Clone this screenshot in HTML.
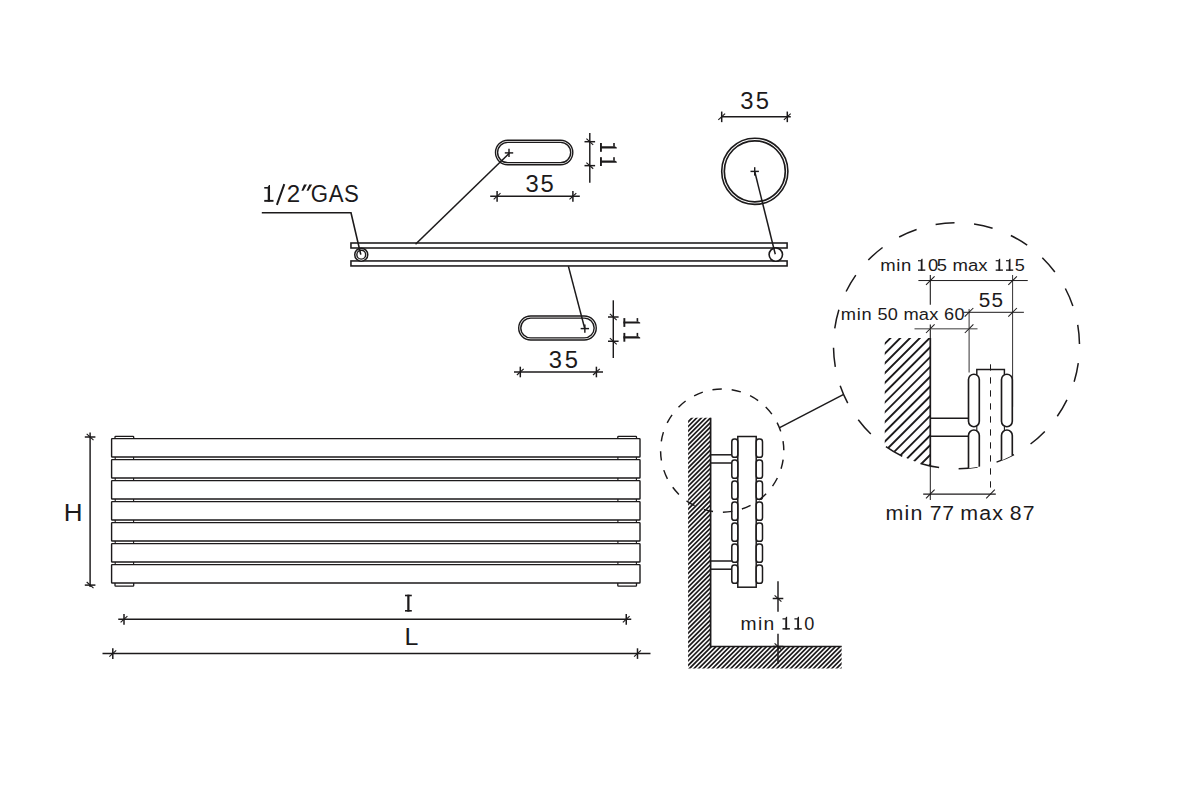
<!DOCTYPE html>
<html><head><meta charset="utf-8"><title>Radiator technical drawing</title>
<style>html,body{margin:0;padding:0;background:#fff;}svg{display:block;}</style></head>
<body>
<svg width="1200" height="800" viewBox="0 0 1200 800" font-family="'Liberation Sans', sans-serif" fill="none" stroke="#1c1a1b" stroke-linecap="butt">
<defs>
<clipPath id="wallc"><path d="M688.1,417.8 H710.6 V646.5 H841.6 V668.6 H688.1 Z"/></clipPath>
<clipPath id="dwallc"><rect x="884.75" y="338.1" width="45.55" height="140"/></clipPath>
<clipPath id="bigc"><circle cx="956.5" cy="345.8" r="123"/></clipPath>
</defs>
<rect x="0" y="0" width="1200" height="800" fill="#fff" stroke="none"/>
<g id="top">
<rect x="350.95" y="243" width="436.15" height="5.0" stroke-width="1.55"/>
<rect x="350.95" y="260.95" width="436.15" height="5.0" stroke-width="1.55"/>
<circle cx="361.25" cy="254.7" r="6.5" stroke-width="1.5" fill="#fff"/>
<circle cx="361.25" cy="254.7" r="4.4" stroke-width="1.4"/>
<circle cx="775.8" cy="254.6" r="6.7" stroke-width="1.6" fill="#fff"/>
<polyline points="261.8,212.8 351,212.8 360.8,254.6" stroke-width="1.6"/>
<rect x="495.50" y="140.25" width="77.30" height="24.50" rx="12.25" stroke-width="1.4"/>
<rect x="497.60" y="142.35" width="73.10" height="20.30" rx="10.15" stroke-width="1.4"/>
<line x1="504.80" y1="152.90" x2="513.20" y2="152.90" stroke-width="1.45" />
<line x1="509.00" y1="148.70" x2="509.00" y2="157.10" stroke-width="1.45" />
<line x1="509.30" y1="153.20" x2="415.50" y2="244.20" stroke-width="1.55" />
<line x1="490.20" y1="196.25" x2="579.80" y2="196.25" stroke-width="1.45" />
<line x1="497.10" y1="191.05" x2="497.10" y2="201.65" stroke-width="1.5" />
<line x1="493.70" y1="199.35" x2="500.50" y2="193.15" stroke-width="1.15" />
<line x1="572.90" y1="191.05" x2="572.90" y2="201.65" stroke-width="1.5" />
<line x1="569.50" y1="199.35" x2="576.30" y2="193.15" stroke-width="1.15" />
<line x1="589.80" y1="133.10" x2="589.80" y2="182.70" stroke-width="1.45" />
<line x1="584.50" y1="141.70" x2="595.10" y2="141.70" stroke-width="1.5" />
<line x1="586.40" y1="138.60" x2="593.20" y2="144.80" stroke-width="1.15" />
<line x1="584.50" y1="165.65" x2="595.10" y2="165.65" stroke-width="1.5" />
<line x1="586.40" y1="162.55" x2="593.20" y2="168.75" stroke-width="1.15" />
<circle cx="754.8" cy="171.3" r="33.1" stroke-width="1.6"/>
<circle cx="754.8" cy="171.3" r="30.5" stroke-width="1.7"/>
<line x1="750.50" y1="171.40" x2="758.90" y2="171.40" stroke-width="1.45" />
<line x1="754.70" y1="167.20" x2="754.70" y2="175.60" stroke-width="1.45" />
<line x1="754.70" y1="171.40" x2="775.30" y2="254.30" stroke-width="1.5" />
<line x1="721.20" y1="116.75" x2="790.75" y2="116.75" stroke-width="1.45" />
<line x1="721.70" y1="111.55" x2="721.70" y2="122.15" stroke-width="1.5" />
<line x1="718.30" y1="119.85" x2="725.10" y2="113.65" stroke-width="1.15" />
<line x1="787.30" y1="111.55" x2="787.30" y2="122.15" stroke-width="1.5" />
<line x1="783.90" y1="119.85" x2="790.70" y2="113.65" stroke-width="1.15" />
<rect x="518.70" y="316.00" width="77.55" height="24.00" rx="12.00" stroke-width="1.4"/>
<rect x="520.80" y="318.10" width="73.35" height="19.80" rx="9.90" stroke-width="1.4"/>
<line x1="580.65" y1="328.60" x2="589.05" y2="328.60" stroke-width="1.45" />
<line x1="584.85" y1="324.40" x2="584.85" y2="332.80" stroke-width="1.45" />
<line x1="568.40" y1="266.25" x2="584.80" y2="328.80" stroke-width="1.45" />
<line x1="613.30" y1="300.30" x2="613.30" y2="358.00" stroke-width="1.45" />
<line x1="608.00" y1="317.00" x2="618.60" y2="317.00" stroke-width="1.5" />
<line x1="609.90" y1="313.90" x2="616.70" y2="320.10" stroke-width="1.15" />
<line x1="608.00" y1="341.25" x2="618.60" y2="341.25" stroke-width="1.5" />
<line x1="609.90" y1="338.15" x2="616.70" y2="344.35" stroke-width="1.15" />
<line x1="514.00" y1="371.90" x2="603.00" y2="371.90" stroke-width="1.45" />
<line x1="520.30" y1="366.70" x2="520.30" y2="377.30" stroke-width="1.5" />
<line x1="516.90" y1="375.00" x2="523.70" y2="368.80" stroke-width="1.15" />
<line x1="596.40" y1="366.70" x2="596.40" y2="377.30" stroke-width="1.5" />
<line x1="593.00" y1="375.00" x2="599.80" y2="368.80" stroke-width="1.15" />
</g>
<g id="front">
<path d="M115,438.6 V437.0 Q115,436.3 115.7,436.3 H133.0 Q133.7,436.3 133.7,437.0 V438.6" stroke-width="1.3"/>
<path d="M617.8,438.6 V437.0 Q617.8,436.3 618.5,436.3 H635.8 Q636.5,436.3 636.5,437.0 V438.6" stroke-width="1.3"/>
<path d="M115,583 V585.4 Q115,586.1 115.7,586.1 H133.0 Q133.7,586.1 133.7,585.4 V583" stroke-width="1.3"/>
<path d="M617.8,583 V585.4 Q617.8,586.1 618.5,586.1 H635.8 Q636.5,586.1 636.5,585.4 V583" stroke-width="1.3"/>
<rect x="111.6" y="438.60" width="528.4" height="18.4" rx="0.6" stroke-width="1.4"/>
<line x1="115.20" y1="457.00" x2="115.20" y2="459.60" stroke-width="1.1" />
<line x1="133.60" y1="457.00" x2="133.60" y2="459.60" stroke-width="1.1" />
<line x1="617.90" y1="457.00" x2="617.90" y2="459.60" stroke-width="1.1" />
<line x1="636.40" y1="457.00" x2="636.40" y2="459.60" stroke-width="1.1" />
<rect x="111.6" y="459.60" width="528.4" height="18.4" rx="0.6" stroke-width="1.4"/>
<line x1="115.20" y1="478.00" x2="115.20" y2="480.60" stroke-width="1.1" />
<line x1="133.60" y1="478.00" x2="133.60" y2="480.60" stroke-width="1.1" />
<line x1="617.90" y1="478.00" x2="617.90" y2="480.60" stroke-width="1.1" />
<line x1="636.40" y1="478.00" x2="636.40" y2="480.60" stroke-width="1.1" />
<rect x="111.6" y="480.60" width="528.4" height="18.4" rx="0.6" stroke-width="1.4"/>
<line x1="115.20" y1="499.00" x2="115.20" y2="501.60" stroke-width="1.1" />
<line x1="133.60" y1="499.00" x2="133.60" y2="501.60" stroke-width="1.1" />
<line x1="617.90" y1="499.00" x2="617.90" y2="501.60" stroke-width="1.1" />
<line x1="636.40" y1="499.00" x2="636.40" y2="501.60" stroke-width="1.1" />
<rect x="111.6" y="501.60" width="528.4" height="18.4" rx="0.6" stroke-width="1.4"/>
<line x1="115.20" y1="520.00" x2="115.20" y2="522.60" stroke-width="1.1" />
<line x1="133.60" y1="520.00" x2="133.60" y2="522.60" stroke-width="1.1" />
<line x1="617.90" y1="520.00" x2="617.90" y2="522.60" stroke-width="1.1" />
<line x1="636.40" y1="520.00" x2="636.40" y2="522.60" stroke-width="1.1" />
<rect x="111.6" y="522.60" width="528.4" height="18.4" rx="0.6" stroke-width="1.4"/>
<line x1="115.20" y1="541.00" x2="115.20" y2="543.60" stroke-width="1.1" />
<line x1="133.60" y1="541.00" x2="133.60" y2="543.60" stroke-width="1.1" />
<line x1="617.90" y1="541.00" x2="617.90" y2="543.60" stroke-width="1.1" />
<line x1="636.40" y1="541.00" x2="636.40" y2="543.60" stroke-width="1.1" />
<rect x="111.6" y="543.60" width="528.4" height="18.4" rx="0.6" stroke-width="1.4"/>
<line x1="115.20" y1="562.00" x2="115.20" y2="564.60" stroke-width="1.1" />
<line x1="133.60" y1="562.00" x2="133.60" y2="564.60" stroke-width="1.1" />
<line x1="617.90" y1="562.00" x2="617.90" y2="564.60" stroke-width="1.1" />
<line x1="636.40" y1="562.00" x2="636.40" y2="564.60" stroke-width="1.1" />
<rect x="111.6" y="564.60" width="528.4" height="18.4" rx="0.6" stroke-width="1.4"/>
<line x1="90.10" y1="432.50" x2="90.10" y2="587.00" stroke-width="1.45" />
<line x1="84.80" y1="437.00" x2="95.40" y2="437.00" stroke-width="1.5" />
<line x1="86.70" y1="433.90" x2="93.50" y2="440.10" stroke-width="1.15" />
<line x1="84.80" y1="585.10" x2="95.40" y2="585.10" stroke-width="1.5" />
<line x1="86.70" y1="582.00" x2="93.50" y2="588.20" stroke-width="1.15" />
<line x1="118.25" y1="619.25" x2="631.25" y2="619.25" stroke-width="1.45" />
<line x1="124.00" y1="614.05" x2="124.00" y2="624.65" stroke-width="1.5" />
<line x1="120.60" y1="622.35" x2="127.40" y2="616.15" stroke-width="1.15" />
<line x1="626.25" y1="614.05" x2="626.25" y2="624.65" stroke-width="1.5" />
<line x1="622.85" y1="622.35" x2="629.65" y2="616.15" stroke-width="1.15" />
<line x1="102.50" y1="653.50" x2="650.50" y2="653.50" stroke-width="1.45" />
<line x1="112.80" y1="648.30" x2="112.80" y2="658.90" stroke-width="1.5" />
<line x1="109.40" y1="656.60" x2="116.20" y2="650.40" stroke-width="1.15" />
<line x1="637.50" y1="648.30" x2="637.50" y2="658.90" stroke-width="1.5" />
<line x1="634.10" y1="656.60" x2="640.90" y2="650.40" stroke-width="1.15" />
</g>
<g id="side">
<g clip-path="url(#wallc)"><path d="M686.00,424.00L844.00,266.00M686.00,428.59L844.00,270.59M686.00,433.19L844.00,275.19M686.00,437.78L844.00,279.78M686.00,442.37L844.00,284.37M686.00,446.96L844.00,288.96M686.00,451.56L844.00,293.56M686.00,456.15L844.00,298.15M686.00,460.74L844.00,302.74M686.00,465.34L844.00,307.34M686.00,469.93L844.00,311.93M686.00,474.52L844.00,316.52M686.00,479.12L844.00,321.12M686.00,483.71L844.00,325.71M686.00,488.30L844.00,330.30M686.00,492.89L844.00,334.89M686.00,497.49L844.00,339.49M686.00,502.08L844.00,344.08M686.00,506.67L844.00,348.67M686.00,511.27L844.00,353.27M686.00,515.86L844.00,357.86M686.00,520.45L844.00,362.45M686.00,525.05L844.00,367.05M686.00,529.64L844.00,371.64M686.00,534.23L844.00,376.23M686.00,538.83L844.00,380.83M686.00,543.42L844.00,385.42M686.00,548.01L844.00,390.01M686.00,552.60L844.00,394.60M686.00,557.20L844.00,399.20M686.00,561.79L844.00,403.79M686.00,566.38L844.00,408.38M686.00,570.98L844.00,412.98M686.00,575.57L844.00,417.57M686.00,580.16L844.00,422.16M686.00,584.76L844.00,426.76M686.00,589.35L844.00,431.35M686.00,593.94L844.00,435.94M686.00,598.53L844.00,440.53M686.00,603.13L844.00,445.13M686.00,607.72L844.00,449.72M686.00,612.31L844.00,454.31M686.00,616.91L844.00,458.91M686.00,621.50L844.00,463.50M686.00,626.09L844.00,468.09M686.00,630.68L844.00,472.68M686.00,635.28L844.00,477.28M686.00,639.87L844.00,481.87M686.00,644.46L844.00,486.46M686.00,649.06L844.00,491.06M686.00,653.65L844.00,495.65M686.00,658.24L844.00,500.24M686.00,662.84L844.00,504.84M686.00,667.43L844.00,509.43M686.00,672.02L844.00,514.02M686.00,676.62L844.00,518.62M686.00,681.21L844.00,523.21M686.00,685.80L844.00,527.80M686.00,690.39L844.00,532.39M686.00,694.99L844.00,536.99M686.00,699.58L844.00,541.58M686.00,704.17L844.00,546.17M686.00,708.77L844.00,550.77M686.00,713.36L844.00,555.36M686.00,717.95L844.00,559.95M686.00,722.55L844.00,564.55M686.00,727.14L844.00,569.14M686.00,731.73L844.00,573.73M686.00,736.32L844.00,578.32M686.00,740.92L844.00,582.92M686.00,745.51L844.00,587.51M686.00,750.10L844.00,592.10M686.00,754.70L844.00,596.70M686.00,759.29L844.00,601.29M686.00,763.88L844.00,605.88M686.00,768.47L844.00,610.47M686.00,773.07L844.00,615.07M686.00,777.66L844.00,619.66M686.00,782.25L844.00,624.25M686.00,786.85L844.00,628.85M686.00,791.44L844.00,633.44M686.00,796.03L844.00,638.03M686.00,800.63L844.00,642.63M686.00,805.22L844.00,647.22M686.00,809.81L844.00,651.81M686.00,814.40L844.00,656.40M686.00,819.00L844.00,661.00M686.00,823.59L844.00,665.59M686.00,828.18L844.00,670.18M686.00,832.78L844.00,674.78" stroke-width="1.7"/></g>
<polyline points="710.6,417.8 710.6,646.5 841.7,646.5" stroke-width="1.7"/>
<line x1="710.60" y1="454.80" x2="731.80" y2="454.80" stroke-width="1.5" />
<line x1="710.60" y1="463.00" x2="731.80" y2="463.00" stroke-width="1.5" />
<line x1="710.60" y1="561.00" x2="731.80" y2="561.00" stroke-width="1.5" />
<line x1="710.60" y1="569.20" x2="731.80" y2="569.20" stroke-width="1.5" />
<rect x="737.8" y="436.5" width="18.4" height="150.7" stroke-width="1.5" fill="#fff"/>
<rect x="731.8" y="439.10" width="6.0" height="18.2" rx="2.6" stroke-width="1.5" fill="#fff"/>
<rect x="756.2" y="439.10" width="6.3" height="18.2" rx="2.6" stroke-width="1.5" fill="#fff"/>
<rect x="731.8" y="460.10" width="6.0" height="18.2" rx="2.6" stroke-width="1.5" fill="#fff"/>
<rect x="756.2" y="460.10" width="6.3" height="18.2" rx="2.6" stroke-width="1.5" fill="#fff"/>
<rect x="731.8" y="481.10" width="6.0" height="18.2" rx="2.6" stroke-width="1.5" fill="#fff"/>
<rect x="756.2" y="481.10" width="6.3" height="18.2" rx="2.6" stroke-width="1.5" fill="#fff"/>
<rect x="731.8" y="502.10" width="6.0" height="18.2" rx="2.6" stroke-width="1.5" fill="#fff"/>
<rect x="756.2" y="502.10" width="6.3" height="18.2" rx="2.6" stroke-width="1.5" fill="#fff"/>
<rect x="731.8" y="523.10" width="6.0" height="18.2" rx="2.6" stroke-width="1.5" fill="#fff"/>
<rect x="756.2" y="523.10" width="6.3" height="18.2" rx="2.6" stroke-width="1.5" fill="#fff"/>
<rect x="731.8" y="544.10" width="6.0" height="18.2" rx="2.6" stroke-width="1.5" fill="#fff"/>
<rect x="756.2" y="544.10" width="6.3" height="18.2" rx="2.6" stroke-width="1.5" fill="#fff"/>
<rect x="731.8" y="565.10" width="6.0" height="18.2" rx="2.6" stroke-width="1.5" fill="#fff"/>
<rect x="756.2" y="565.10" width="6.3" height="18.2" rx="2.6" stroke-width="1.5" fill="#fff"/>
<circle cx="722.2" cy="450.6" r="61.6" stroke-width="1.45" stroke-dasharray="9.4 9.952" stroke-dashoffset="-9.08"/>
<line x1="779.20" y1="427.80" x2="843.20" y2="394.60" stroke-width="1.5" />
<line x1="778.00" y1="581.25" x2="778.00" y2="611.70" stroke-width="1.45" />
<line x1="778.00" y1="633.75" x2="778.00" y2="663.75" stroke-width="1.45" />
<line x1="772.70" y1="598.50" x2="783.30" y2="598.50" stroke-width="1.5" />
<line x1="774.60" y1="595.40" x2="781.40" y2="601.60" stroke-width="1.15" />
<line x1="772.70" y1="646.50" x2="783.30" y2="646.50" stroke-width="1.5" />
<line x1="774.60" y1="643.40" x2="781.40" y2="649.60" stroke-width="1.15" />
</g>
<g id="detail">
<circle cx="956.5" cy="345.8" r="123" stroke-width="1.5" stroke-dasharray="19 19.642" stroke-dashoffset="-17.4"/>
<g clip-path="url(#bigc)">
<g clip-path="url(#dwallc)"><path d="M883.00,345.50L932.00,296.50M883.00,355.29L932.00,306.29M883.00,365.08L932.00,316.08M883.00,374.87L932.00,325.87M883.00,384.66L932.00,335.66M883.00,394.45L932.00,345.45M883.00,404.24L932.00,355.24M883.00,414.03L932.00,365.03M883.00,423.82L932.00,374.82M883.00,433.61L932.00,384.61M883.00,443.40L932.00,394.40M883.00,453.19L932.00,404.19M883.00,462.98L932.00,413.98M883.00,472.77L932.00,423.77M883.00,482.56L932.00,433.56M883.00,492.35L932.00,443.35M883.00,502.14L932.00,453.14M883.00,511.93L932.00,462.93M883.00,521.72L932.00,472.72M883.00,531.51L932.00,482.51M883.00,541.30L932.00,492.30M883.00,551.09L932.00,502.09M883.00,560.88L932.00,511.88M883.00,570.67L932.00,521.67" stroke-width="1.9"/></g>
<line x1="930.30" y1="338.10" x2="930.30" y2="470.00" stroke-width="1.7" />
<line x1="930.30" y1="418.30" x2="968.50" y2="418.30" stroke-width="1.45" />
<line x1="930.30" y1="436.30" x2="968.50" y2="436.30" stroke-width="1.45" />
<path d="M976.8,376 V369.5 H1004.4 V376" stroke-width="1.45"/>
<line x1="976.80" y1="425.50" x2="976.80" y2="431.50" stroke-width="1.1" />
<line x1="1004.40" y1="425.50" x2="1004.40" y2="431.50" stroke-width="1.1" />
<rect x="968.5" y="374.2" width="10.80" height="52.5" rx="5.40" stroke-width="1.65" fill="#fff"/>
<path d="M968.5,480 V435.40 A5.40,5.40 0 0 1 979.3,435.40 V480" stroke-width="1.65" fill="#fff"/>
<rect x="1001.5" y="374.2" width="10.80" height="52.5" rx="5.40" stroke-width="1.65" fill="#fff"/>
<path d="M1001.5,480 V435.40 A5.40,5.40 0 0 1 1012.3,435.40 V480" stroke-width="1.65" fill="#fff"/>
</g>
<line x1="930.30" y1="275.00" x2="930.30" y2="304.75" stroke-width="1.1" />
<line x1="930.30" y1="324.50" x2="930.30" y2="338.10" stroke-width="1.1" />
<line x1="930.30" y1="466.00" x2="930.30" y2="500.00" stroke-width="1.0" />
<line x1="1012.60" y1="275.00" x2="1012.60" y2="406.75" stroke-width="0.9" />
<line x1="969.10" y1="309.00" x2="969.10" y2="372.50" stroke-width="0.9" />
<line x1="918.40" y1="280.55" x2="1027.75" y2="280.55" stroke-width="1.0" />
<line x1="926.00" y1="284.90" x2="934.60" y2="276.30" stroke-width="1.05" />
<line x1="1008.30" y1="284.90" x2="1016.90" y2="276.30" stroke-width="1.05" />
<line x1="963.60" y1="312.30" x2="1023.90" y2="312.30" stroke-width="1.0" />
<line x1="964.70" y1="316.60" x2="973.30" y2="308.00" stroke-width="1.05" />
<line x1="1008.30" y1="316.60" x2="1016.90" y2="308.00" stroke-width="1.05" />
<line x1="914.50" y1="328.80" x2="977.50" y2="328.80" stroke-width="1.6" stroke="#7c7c7c"/>
<line x1="926.00" y1="333.00" x2="934.60" y2="324.40" stroke-width="1.05" />
<line x1="964.80" y1="333.00" x2="973.40" y2="324.40" stroke-width="1.05" />
<line x1="923.20" y1="494.10" x2="995.80" y2="494.10" stroke-width="1.05" />
<line x1="926.00" y1="498.30" x2="934.60" y2="489.70" stroke-width="1.05" />
<line x1="986.20" y1="498.30" x2="994.80" y2="489.70" stroke-width="1.05" />
<line x1="990.50" y1="364.30" x2="990.50" y2="494.00" stroke-width="1.0" stroke-dasharray="6.3 6.7"/>
</g>
<g id="txt" fill="#1c1a1b" stroke="none">
<text transform="translate(286.75 201.80) scale(1.0 1)" font-size="23.9" textLength="13.44" lengthAdjust="spacingAndGlyphs">2</text>
<text transform="translate(310.76 201.80) scale(0.93 1)" font-size="23.9" textLength="51.76" lengthAdjust="spacing">GAS</text>
<text transform="translate(525.50 191.90) scale(1.0 1)" font-size="23.8" textLength="28.36" lengthAdjust="spacing">35</text>
<text transform="translate(740.20 109.00) scale(1.0 1)" font-size="23.8" textLength="28.80" lengthAdjust="spacing">35</text>
<text transform="translate(548.76 367.80) scale(1.0 1)" font-size="23.8" textLength="29.24" lengthAdjust="spacing">35</text>
<text transform="translate(63.87 520.60) scale(1.0 1)" font-size="23.9" textLength="18.82" lengthAdjust="spacingAndGlyphs">H</text>
<text transform="translate(404.60 644.80) scale(1.0 1)" font-size="23.9" textLength="13.86" lengthAdjust="spacingAndGlyphs">L</text>
<text transform="translate(880.14 270.80) scale(1.07 1)" font-size="17.3" textLength="29.04" lengthAdjust="spacing">min</text>
<text transform="translate(928.08 270.80) scale(1.06 1)" font-size="17.3" textLength="17.78" lengthAdjust="spacing">05</text>
<text transform="translate(952.60 270.80) scale(1.07 1)" font-size="17.3" textLength="32.65" lengthAdjust="spacing">max</text>
<text transform="translate(1014.74 270.80) scale(1.06 1)" font-size="17.3" textLength="9.53" lengthAdjust="spacingAndGlyphs">5</text>
<text transform="translate(840.84 319.70) scale(1.07 1)" font-size="17.1" textLength="28.70" lengthAdjust="spacing">min</text>
<text transform="translate(877.56 319.70) scale(1.06 1)" font-size="17.1" textLength="19.09" lengthAdjust="spacing">50</text>
<text transform="translate(903.47 319.70) scale(1.07 1)" font-size="17.1" textLength="32.58" lengthAdjust="spacing">max</text>
<text transform="translate(943.97 319.70) scale(1.06 1)" font-size="17.1" textLength="19.56" lengthAdjust="spacing">60</text>
<text transform="translate(978.70 307.20) scale(1.0 1)" font-size="20.7" textLength="24.30" lengthAdjust="spacing">55</text>
<text transform="translate(885.52 519.65) scale(1.07 1)" font-size="20.0" textLength="34.41" lengthAdjust="spacing">min</text>
<text transform="translate(929.82 519.65) scale(1.06 1)" font-size="20.0" textLength="22.81" lengthAdjust="spacing">77</text>
<text transform="translate(960.15 519.65) scale(1.07 1)" font-size="20.0" textLength="39.97" lengthAdjust="spacing">max</text>
<text transform="translate(1009.76 519.65) scale(1.06 1)" font-size="20.0" textLength="23.44" lengthAdjust="spacing">87</text>
<text transform="translate(740.49 629.55) scale(1.07 1)" font-size="18.0" textLength="31.54" lengthAdjust="spacing">min</text>
<text transform="translate(804.30 629.55) scale(1.06 1)" font-size="18.0" textLength="9.51" lengthAdjust="spacingAndGlyphs">0</text>
</g>
<g id="I" fill="#1c1a1b" stroke="none"><rect x="407.25" y="594.7" width="2.25" height="16.9"/><rect x="405.0" y="594.7" width="6.8" height="1.6"/><rect x="405.0" y="610.0" width="6.8" height="1.6"/></g>
<defs><g id="one" fill="#1c1a1b" stroke="none"><rect x="0" y="-1.9" width="8.8" height="1.9"/><path d="M3.3,0 H5.5 V-16.8 H4.5 L3.3,-14.8 Z"/><rect x="0" y="-14.8" width="3.5" height="1.6"/></g></defs>
<use href="#one" transform="translate(600.0 143.0) rotate(90)"/>
<use href="#one" transform="translate(600.0 157.2) rotate(90)"/>
<use href="#one" transform="translate(623.4 318.1) rotate(90)"/>
<use href="#one" transform="translate(623.4 332.90000000000003) rotate(90)"/>
<use href="#one" transform="translate(264.25 201.80) scale(1.051 1.000)"/>
<use href="#one" transform="translate(918.00 270.80) scale(0.830 0.720)"/>
<use href="#one" transform="translate(995.70 270.80) scale(0.818 0.720)"/>
<use href="#one" transform="translate(1006.00 270.80) scale(0.818 0.720)"/>
<use href="#one" transform="translate(782.50 629.55) scale(0.841 0.762)"/>
<use href="#one" transform="translate(794.40 629.55) scale(0.841 0.762)"/>
<path d="M276.9,204.9 L284.3,184.1" stroke-width="2.0"/>
<path d="M301.4,190.8 L304.0,184.4 H306.9 L303.4,190.8 Z M306.5,190.8 L309.3,184.4 H312.1 L308.5,190.8 Z" fill="#1c1a1b" stroke="none"/>
</svg>
</body></html>
